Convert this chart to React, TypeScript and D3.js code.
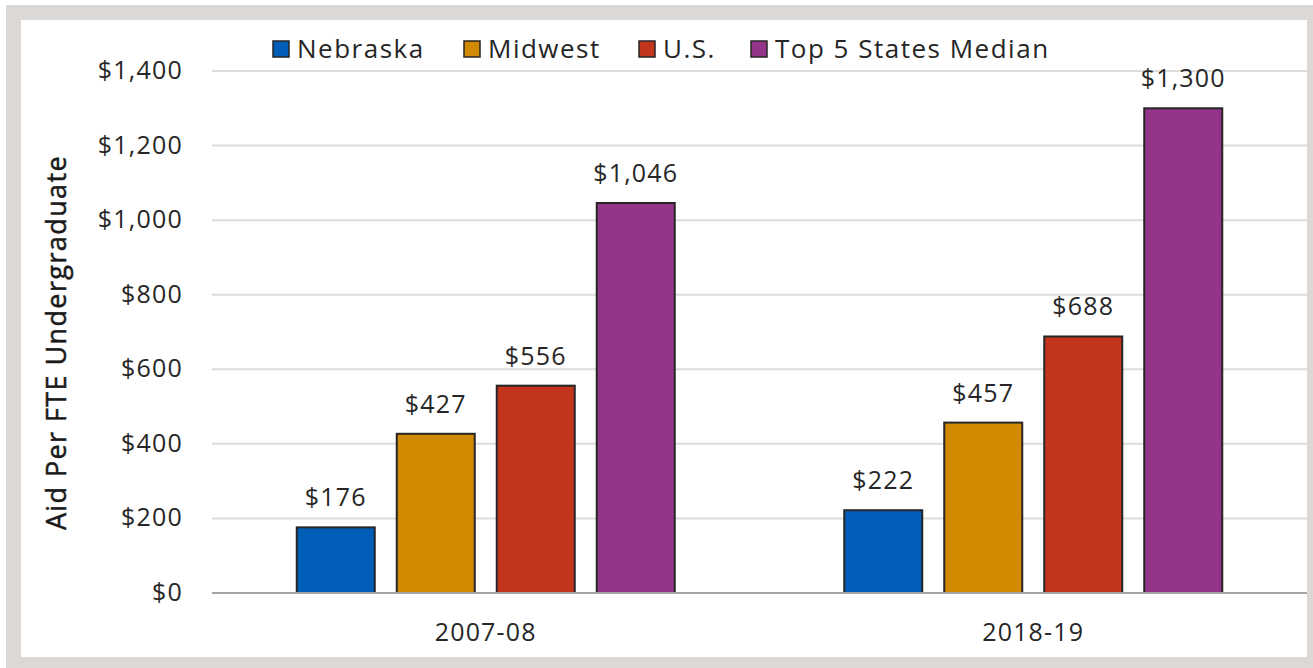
import React from "react";
import * as d3 from "d3";

const periods = ["2007-08", "2018-19"];
const seriesNames = ["Nebraska", "Midwest", "U.S.", "Top 5 States Median"];
const seriesColors = ["#005EB8", "#D18A00", "#C4351D", "#94358A"];
const nebraska = [176, 222];
const midwest = [427, 457];
const us = [556, 688];
const top5 = [1046, 1300];
const yTicks = [0, 200, 400, 600, 800, 1000, 1200, 1400];

const allSeries = [nebraska, midwest, us, top5];
const font = "'Open Sans', 'Noto Sans', sans-serif";
const fmt = (v: number) => "$" + d3.format(",")(v);

export default function App() {
  const W = 1313;
  const H = 668;
  const left = 212;
  const right = 1307;
  const top = 71;
  const bottom = 593;

  const x0 = d3.scaleBand().domain(periods).range([left, right]).padding(0);
  const x1 = d3
    .scaleBand()
    .domain(seriesNames)
    .range([-200, 200])
    .paddingInner(0.22)
    .paddingOuter(0.11);
  const y = d3.scaleLinear().domain([0, 1400]).range([bottom, top]);

  const legendX = [273, 464, 639, 751];

  return (
    <svg
      width={W}
      height={H}
      style={{ position: "absolute", left: 0, top: 0, background: "#fff" }}
      fontFamily={font}
    >
      <rect x={6} y={5} width={W - 6} height={H - 5} fill="#dcd8d5" />
      <rect x={21} y={20} width={1286} height={637} fill="#fff" />

      {yTicks.map((t) => (
        <g key={t}>
          {t > 0 && (
            <line x1={left} x2={right} y1={y(t)} y2={y(t)} stroke="#dcdcdc" strokeWidth={2} />
          )}
          <text
            x={183}
            y={y(t) + 8}
            textAnchor="end"
            fontSize={25}
            letterSpacing={1.2}
            fill="#262626"
          >
            {fmt(t)}
          </text>
        </g>
      ))}

      {periods.map((p, pi) => {
        const cx = x0(p)! + x0.bandwidth() / 2;
        return (
          <g key={p}>
            {seriesNames.map((s, si) => {
              const v = allSeries[si][pi];
              const bx = cx + x1(s)!;
              return (
                <g key={s}>
                  <rect
                    x={bx}
                    y={y(v)}
                    width={x1.bandwidth()}
                    height={y(0) - y(v)}
                    fill={seriesColors[si]}
                    stroke="#262626"
                    strokeWidth={2}
                  />
                  <text
                    x={bx + x1.bandwidth() / 2}
                    y={y(v) - 21}
                    textAnchor="middle"
                    fontSize={25}
                    letterSpacing={1.2}
                    fill="#262626"
                  >
                    {fmt(v)}
                  </text>
                </g>
              );
            })}
            <text
              x={cx}
              y={641}
              textAnchor="middle"
              fontSize={25}
              letterSpacing={1.2}
              fill="#262626"
            >
              {p}
            </text>
          </g>
        );
      })}

      <line x1={left} x2={right} y1={y(0)} y2={y(0)} stroke="#a6a6a6" strokeWidth={2} />

      {seriesNames.map((s, i) => (
        <g key={s}>
          <rect
            x={legendX[i]}
            y={41}
            width={16}
            height={16}
            fill={seriesColors[i]}
            stroke="#262626"
            strokeWidth={1.5}
          />
          <text
            x={legendX[i] + 24}
            y={58}
            fontSize={26}
            letterSpacing={1.5}
            fill="#262626"
          >
            {s}
          </text>
        </g>
      ))}

      {/* axis title is a medium weight in the original */}
      <text
        transform={`translate(66,${(150 + 535) / 2}) rotate(-90)`}
        textAnchor="middle"
        fontSize={27}
        fontWeight={500}
        letterSpacing={1.4}
        fill="#1a1a1a"
        stroke="#1a1a1a"
        strokeWidth={0.5}
      >
        Aid Per FTE Undergraduate
      </text>
    </svg>
  );
}
